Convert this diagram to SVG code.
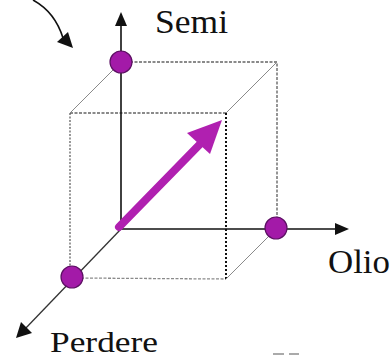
<svg xmlns="http://www.w3.org/2000/svg" width="392" height="358" viewBox="0 0 392 358">
<style>
.lbl{font-family:"Liberation Serif","Times New Roman",serif;font-size:33px;fill:#111}
.axis{stroke:#111;stroke-width:1.6;fill:none}
.head{fill:#111}
.dash{stroke:#8a8a8a;stroke-width:1.8;stroke-dasharray:3 1.5;fill:none}
.dot{stroke:#111;stroke-width:2;stroke-dasharray:2 2;fill:none}
.thin{stroke:#8a8a8a;stroke-width:1;fill:none}
.pt{fill:#a31aa8;stroke:#5c1063;stroke-width:1.2}
</style>
<rect width="392" height="358" fill="#fff"/>
<g id="connectors">
<path class="dash" d="M121,62 H277 V228"/>
<path class="dash" d="M70,113 H226"/>
<path class="dash" d="M72,278 L226,279" style="stroke-width:1.3"/>
<path d="M70,113 V277" style="stroke:#555;stroke-width:1.2;stroke-dasharray:2 1.5;fill:none"/>
<path class="dot" d="M226,113 V279"/>
<path class="thin" d="M70,113 L121,62 M226,113 L277,62 M226,279 L276,229"/>
<path class="axis" d="M121,229 V24"/>
<polygon class="head" points="121,12 115,26 127,26"/>
<path class="axis" d="M121,229 H336"/>
<polygon class="head" points="349,229 335,223 335,235"/>
<path class="axis" d="M121,229 L24,330" style="stroke:#333;stroke-width:1.3"/>
<polygon class="head" points="16,338 21,322 32,333"/>
<path d="M33,0 Q55,12 63,38" style="stroke:#111;stroke-width:1.6;fill:none"/>
<polygon class="head" points="73,48 57,42 68,32"/>
<path d="M119,227 L205,139" style="stroke:#b020b0;stroke-width:8;stroke-linecap:round;fill:none"/>
<polygon points="222,120 187,133 210,154" fill="#b020b0"/>
</g>
<g id="semi-point"><circle class="pt" cx="121" cy="62" r="11"/></g>
<g id="olio-point"><circle class="pt" cx="276" cy="228" r="11"/></g>
<g id="perdere-point"><circle class="pt" cx="72" cy="277" r="11"/></g>
<g id="labels">
<text class="lbl" x="155" y="33" textLength="73" lengthAdjust="spacingAndGlyphs">Semi</text>
<text class="lbl" x="328" y="273" textLength="62" lengthAdjust="spacingAndGlyphs">Olio</text>
<text class="lbl" x="50" y="352" style="font-size:30px" textLength="108" lengthAdjust="spacingAndGlyphs">Perdere</text>
</g>
<g id="marks" fill="#aaa">
<rect x="273" y="353" width="11" height="2"/>
<rect x="289" y="353" width="10" height="2"/>
</g>
</svg>
